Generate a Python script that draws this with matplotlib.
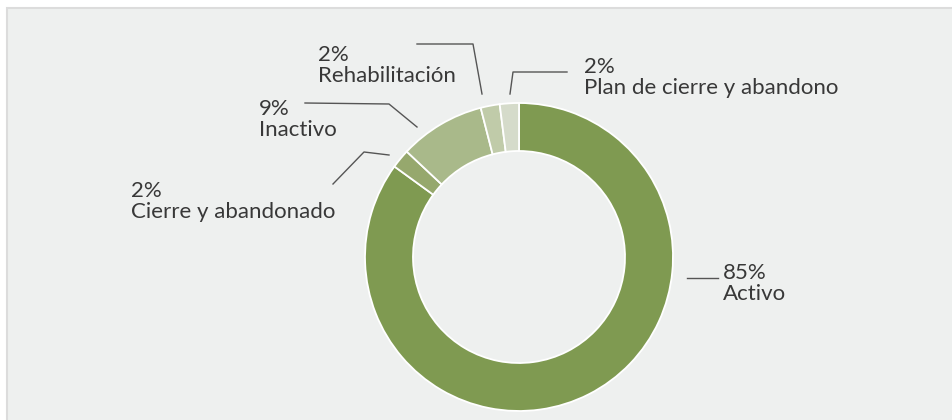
import matplotlib.pyplot as plt
from matplotlib.patches import Rectangle

# data
labels = ['Activo', 'Cierre y abandonado', 'Inactivo', 'Rehabilitación', 'Plan de cierre y abandono']
shares = [85, 2, 9, 2, 2]
colors = ['#7f9a51', '#96a86d', '#a9b98a', '#c0cba9', '#d5dbca']

# label layout in pixels: text x, baseline of the % line, leader polyline
text_pos = [(723, 279), (131, 197), (259, 115), (318, 61), (584, 73)]
leaders = [
    [(687, 278), (718, 278)],
    [(333, 184), (364, 152), (389, 155)],
    [(305, 103), (389, 104), (417, 127)],
    [(417, 44), (473, 44), (482, 94)],
    [(510, 94), (513, 72), (567, 72)],
]

W, H = 953, 420
fig = plt.figure(figsize=(W / 100, H / 100), dpi=100)
ax = fig.add_axes([0, 0, 1, 1])

ax.add_patch(Rectangle((7, 8), W + 20, H + 20, facecolor='#eef0ef',
                       edgecolor='#dcdcdc', lw=1.5, zorder=0))

cx, cy, r = 519, 257, 154
ax.pie(shares, colors=colors, center=(cx, cy), radius=r,
       startangle=-90, counterclock=True,
       wedgeprops=dict(width=48, edgecolor='white', linewidth=1.3))

for lab, val, (tx, ty), pts in zip(labels, shares, text_pos, leaders):
    xs = [p[0] for p in pts]
    ys = [p[1] for p in pts]
    ax.plot(xs, ys, color='#555555', lw=1.0, zorder=3)
    ax.text(tx, ty, f'{val}%', fontsize=16, family='Lato', color='#383838',
            ha='left', va='baseline')
    ax.text(tx, ty + 21, lab, fontsize=16, family='Lato', color='#383838',
            ha='left', va='baseline')

ax.set_aspect('auto')
ax.set_xlim(0, W)
ax.set_ylim(H, 0)
ax.axis('off')
fig.patch.set_facecolor('white')

plt.savefig('out.png', dpi=100)
